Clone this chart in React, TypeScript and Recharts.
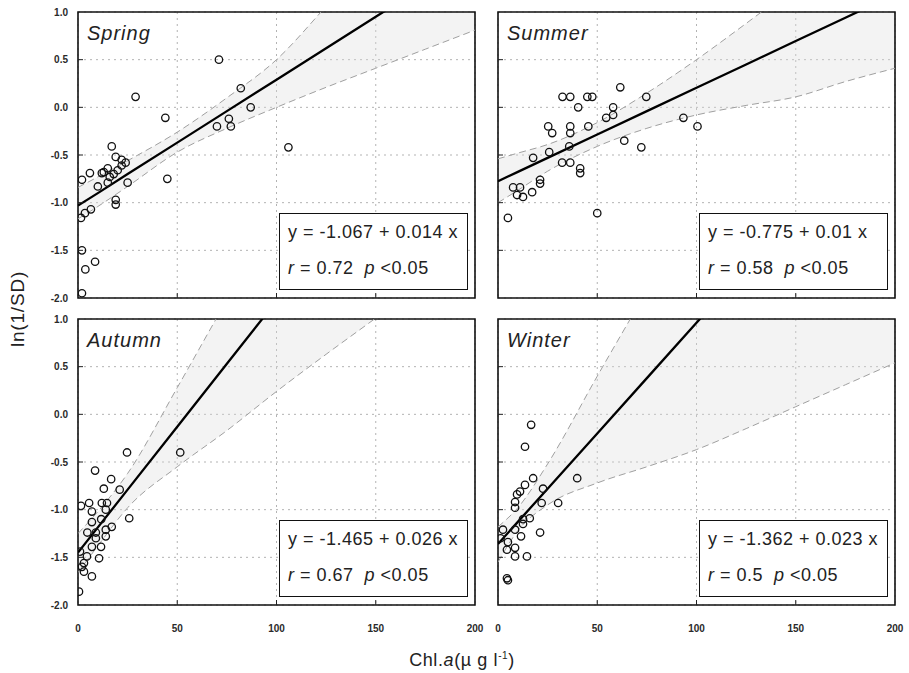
import React from 'react';
import {
  Area,
  CartesianGrid,
  ComposedChart,
  Line,
  ReferenceArea,
  Scatter,
  XAxis,
  YAxis,
} from 'recharts';

// shared x positions for the fitted line and the dashed band
const curveX = [0, 10, 25, 50, 75, 100, 125, 150, 175, 200];
const xTicks = [0, 50, 100, 150, 200];
const yTicks = [-2, -1.5, -1, -0.5, 0, 0.5, 1];

// Spring
const springFit = [-1.03, -0.9, -0.7, -0.37, -0.04, 0.29, 0.62, 0.95, 1.28, 1.61];
const springUpper = [-0.84, -0.73, -0.56, -0.26, 0.1, 0.5, 1.06, 1.65, 2.2, 2.7];
const springLower = [-1.17, -1.04, -0.83, -0.47, -0.22, 0.0, 0.21, 0.41, 0.61, 0.81];
const springPtsX = [71, 29, 44, 82, 87, 70, 76, 77, 106, 45, 17, 19, 22, 22, 15, 12, 6, 2, 16, 25, 15, 10, 19, 19, 6.5, 3.5, 1.5, 2, 3.7, 8.6, 2, 13, 20, 24, 18];
const springPtsY = [0.5, 0.11, -0.11, 0.2, 0.0, -0.2, -0.12, -0.2, -0.42, -0.75, -0.41, -0.52, -0.55, -0.61, -0.64, -0.69, -0.69, -0.76, -0.73, -0.79, -0.79, -0.83, -0.97, -1.02, -1.07, -1.11, -1.16, -1.5, -1.7, -1.62, -1.95, -0.68, -0.66, -0.58, -0.7];

// Summer
const summerFit = [-0.775, -0.677, -0.53, -0.285, -0.04, 0.205, 0.45, 0.695, 0.94, 1.185];
const summerUpper = [-0.54, -0.48, -0.39, -0.16, 0.15, 0.5, 0.88, 1.27, 1.65, 2.0];
const summerLower = [-1.0, -0.87, -0.67, -0.41, -0.22, -0.08, 0.02, 0.11, 0.27, 0.41];
const summerPtsX = [32.5, 36.4, 45, 47.5, 61.6, 74.7, 40.4, 58, 54.5, 58, 25.3, 27.3, 36.4, 36.4, 45.5, 93.4, 100.5, 63.6, 72.2, 35.9, 25.8, 17.7, 32.3, 36.4, 41.4, 41.4, 21.2, 21.2, 7.6, 11.1, 9.6, 12.6, 17.2, 50, 5];
const summerPtsY = [0.11, 0.11, 0.11, 0.11, 0.21, 0.11, 0.0, 0.0, -0.11, -0.08, -0.2, -0.27, -0.2, -0.27, -0.2, -0.11, -0.2, -0.35, -0.42, -0.41, -0.47, -0.53, -0.58, -0.58, -0.64, -0.69, -0.76, -0.8, -0.84, -0.84, -0.92, -0.94, -0.89, -1.11, -1.16];

// Autumn
const autumnFit = [-1.45, -1.186, -0.79, -0.13, 0.53, 1.19, 1.85, 2.51, 3.17, 3.83];
const autumnUpper = [-1.25, -1.02, -0.62, 0.28, 1.2, 2.1, 3.0, 3.9, 4.8, 5.7];
const autumnLower = [-1.66, -1.38, -0.98, -0.55, -0.17, 0.24, 0.63, 1.01, 1.4, 1.78];
const autumnPtsX = [24.7, 51.5, 8.6, 16.7, 13, 21, 25.8, 12, 14.6, 5.6, 1.5, 7, 14, 11.7, 7, 17, 14, 9, 4.7, 14, 11.6, 7, 4.5, 10.6, 2, 3, 7, 0.5, 1, 3, 9];
const autumnPtsY = [-0.4, -0.4, -0.59, -0.68, -0.78, -0.79, -1.09, -0.93, -0.93, -0.93, -0.96, -1.02, -1.0, -1.1, -1.13, -1.18, -1.21, -1.24, -1.24, -1.28, -1.39, -1.39, -1.49, -1.51, -1.6, -1.65, -1.7, -1.86, -1.44, -1.56, -1.3];

// Winter
const winterFit = [-1.36, -1.128, -0.78, -0.2, 0.38, 0.96, 1.54, 2.12, 2.7, 3.28];
const winterUpper = [-1.18, -0.98, -0.52, 0.4, 1.3, 2.2, 3.1, 4.0, 4.9, 5.8];
const winterLower = [-1.55, -1.22, -0.95, -0.72, -0.55, -0.37, -0.15, 0.08, 0.31, 0.54];
const winterPtsX = [16.7, 13.6, 17.7, 13.6, 11.1, 9.6, 39.9, 30.3, 22.7, 22, 8.6, 8.6, 12.6, 16, 21.2, 2.5, 8.6, 11.6, 5, 4.5, 8.6, 14.6, 8.6, 4.5, 5, 1.3, 12.6];
const winterPtsY = [-0.11, -0.34, -0.67, -0.74, -0.81, -0.84, -0.67, -0.93, -0.78, -0.93, -0.92, -0.98, -1.1, -1.09, -1.24, -1.21, -1.21, -1.28, -1.34, -1.42, -1.4, -1.49, -1.49, -1.72, -1.74, -1.3, -1.15];

const FONT = "'Liberation Sans', Arial, sans-serif";

function buildCurve(fit: number[], upper: number[], lower: number[]) {
  return curveX.map((x, i) => ({
    x,
    fit: fit[i],
    upper: upper[i],
    lower: lower[i],
    band: [lower[i], upper[i]],
  }));
}

function buildPts(xs: number[], ys: number[]) {
  return xs.map((x, i) => ({ x, y: ys[i] }));
}

const PLOT_W = 397;
const PLOT_H = 286;
const Y_AXIS_W = 40;
const X_AXIS_H = 30;
const RIGHT_PAD = 14;

interface PanelProps {
  left: number;
  top: number;
  season: string;
  eq: string;
  r: string;
  showYLabels: boolean;
  showXLabels: boolean;
  curve: ReturnType<typeof buildCurve>;
  points: { x: number; y: number }[];
}

function Panel({ left, top, season, eq, r, showYLabels, showXLabels, curve, points }: PanelProps) {
  const yTick = (props: any) => {
    const { x, y, payload } = props;
    const v = payload.value as number;
    const inner = v > -2 && v < 1;
    return (
      <g>
        {inner && <line x1={x} x2={x + 5} y1={y} y2={y} stroke="#222" strokeWidth={1} />}
        {showYLabels && (
          <text x={x - 10} y={y + 3.5} textAnchor="end" fontSize={10} fontWeight="bold" fill="#2a2a2a" fontFamily={FONT}>
            {v.toFixed(1)}
          </text>
        )}
      </g>
    );
  };

  const xTick = (props: any) => {
    const { x, y, payload } = props;
    const v = payload.value as number;
    const inner = v > 0 && v < 200;
    return (
      <g>
        {inner && <line x1={x} x2={x} y1={y} y2={y - 5} stroke="#222" strokeWidth={1} />}
        {showXLabels && (
          <text x={x} y={y + 27} textAnchor="middle" fontSize={10} fontWeight="bold" fill="#2a2a2a" fontFamily={FONT}>
            {v}
          </text>
        )}
      </g>
    );
  };

  return (
    <>
      <div style={{ position: 'absolute', left: left - Y_AXIS_W, top: top - 4 }}>
        <ComposedChart
          width={Y_AXIS_W + PLOT_W + RIGHT_PAD}
          height={4 + PLOT_H + X_AXIS_H}
          margin={{ top: 4, right: RIGHT_PAD, bottom: 0, left: 0 }}
        >
          <CartesianGrid stroke="#b3b3b3" strokeDasharray="2 4" />
          <XAxis
            dataKey="x"
            type="number"
            domain={[0, 200]}
            ticks={xTicks}
            allowDataOverflow
            height={X_AXIS_H}
            axisLine={false}
            tickLine={false}
            tickSize={0}
            tickMargin={0}
            tick={xTick}
            interval={0}
          />
          <YAxis
            type="number"
            domain={[-2, 1]}
            ticks={yTicks}
            allowDataOverflow
            width={Y_AXIS_W}
            axisLine={false}
            tickLine={false}
            tickSize={0}
            tickMargin={0}
            tick={yTick}
            interval={0}
          />
          <Area
            data={curve}
            dataKey="band"
            type="monotone"
            stroke="none"
            fill="#dcdcdc"
            fillOpacity={0.33}
            isAnimationActive={false}
          />
          <Line
            data={curve}
            dataKey="upper"
            type="monotone"
            stroke="#a0a0a0"
            strokeWidth={1}
            strokeDasharray="7 4"
            dot={false}
            isAnimationActive={false}
          />
          <Line
            data={curve}
            dataKey="lower"
            type="monotone"
            stroke="#a0a0a0"
            strokeWidth={1}
            strokeDasharray="7 4"
            dot={false}
            isAnimationActive={false}
          />
          <Line
            data={curve}
            dataKey="fit"
            type="linear"
            stroke="#000"
            strokeWidth={2.3}
            dot={false}
            isAnimationActive={false}
          />
          <Scatter
            data={points}
            dataKey="y"
            isAnimationActive={false}
            shape={(p: any) => (
              <circle cx={p.cx} cy={p.cy} r={3.7} fill="none" stroke="#111" strokeWidth={1.3} />
            )}
          />
          <ReferenceArea
            x1={0}
            x2={200}
            y1={-2}
            y2={1}
            fill="none"
            stroke="#111"
            strokeWidth={1.6}
            fillOpacity={0}
            ifOverflow="visible"
          />
        </ComposedChart>
      </div>
      <div
        style={{
          position: 'absolute',
          left: left + 9,
          top: top + 11,
          fontFamily: FONT,
          fontStyle: 'italic',
          fontSize: 20,
          letterSpacing: 1,
          lineHeight: 1,
          color: '#222',
        }}
      >
        {season}
      </div>
      <div
        style={{
          position: 'absolute',
          left: left + 201,
          top: top + 201,
          width: 189,
          height: 77,
          boxSizing: 'border-box',
          background: '#fff',
          border: '1.6px solid #111',
          fontFamily: FONT,
          fontSize: 18,
          letterSpacing: 0.5,
          color: '#222',
          paddingLeft: 8,
          lineHeight: '36px',
          whiteSpace: 'nowrap',
          overflow: 'hidden',
        }}
      >
        <div>{eq}</div>
        <div>
          <i>r</i> = {r}&nbsp;&nbsp;<i>p</i> &lt;0.05
        </div>
      </div>
    </>
  );
}

export default function App() {
  const LEFT_X = 78;
  const RIGHT_X = 498;
  const TOP_Y = 12;
  const BOTTOM_Y = 319;

  return (
    <div style={{ position: 'absolute', left: 0, top: 0, width: 909, height: 673, background: '#fff' }}>
      <Panel
        left={LEFT_X}
        top={TOP_Y}
        season="Spring"
        eq="y = -1.067 + 0.014 x"
        r="0.72"
        showYLabels
        showXLabels={false}
        curve={buildCurve(springFit, springUpper, springLower)}
        points={buildPts(springPtsX, springPtsY)}
      />
      <Panel
        left={RIGHT_X}
        top={TOP_Y}
        season="Summer"
        eq="y = -0.775 + 0.01 x"
        r="0.58"
        showYLabels={false}
        showXLabels={false}
        curve={buildCurve(summerFit, summerUpper, summerLower)}
        points={buildPts(summerPtsX, summerPtsY)}
      />
      <Panel
        left={LEFT_X}
        top={BOTTOM_Y}
        season="Autumn"
        eq="y = -1.465 + 0.026 x"
        r="0.67"
        showYLabels
        showXLabels
        curve={buildCurve(autumnFit, autumnUpper, autumnLower)}
        points={buildPts(autumnPtsX, autumnPtsY)}
      />
      <Panel
        left={RIGHT_X}
        top={BOTTOM_Y}
        season="Winter"
        eq="y = -1.362 + 0.023 x"
        r="0.5"
        showYLabels={false}
        showXLabels
        curve={buildCurve(winterFit, winterUpper, winterLower)}
        points={buildPts(winterPtsX, winterPtsY)}
      />
      <div
        style={{
          position: 'absolute',
          left: 18,
          top: 309,
          transform: 'translate(-50%, -50%) rotate(-90deg)',
          fontFamily: FONT,
          fontSize: 19,
          letterSpacing: 0.8,
          color: '#222',
          whiteSpace: 'nowrap',
        }}
      >
        ln(1/SD)
      </div>
      <div
        style={{
          position: 'absolute',
          left: 462,
          top: 660,
          transform: 'translate(-50%, -50%)',
          fontFamily: FONT,
          fontSize: 18,
          letterSpacing: 0.6,
          color: '#222',
          whiteSpace: 'nowrap',
        }}
      >
        Chl.<i>a</i>(µ g l<sup style={{ fontSize: 10 }}>-1</sup>)
      </div>
    </div>
  );
}
